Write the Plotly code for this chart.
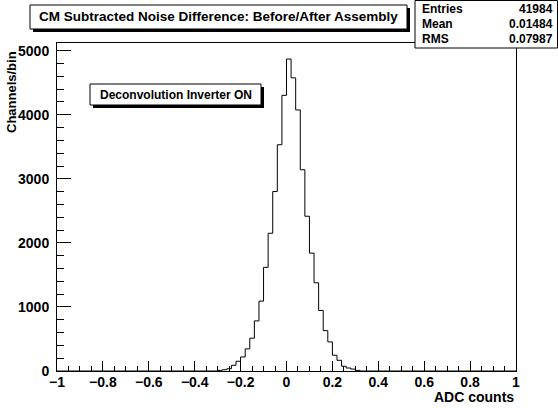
import plotly.graph_objects as go

# histogram: 100 bins of width 0.02 from -1 to 1, only the central ones are filled
bin_low = -1.0
bin_width = 0.02
n_bins = 100
first_filled = -0.30
counts = [10, 20, 35, 89, 152, 219, 345, 512, 782, 1091,
          1618, 2150, 2801, 3532, 4303, 4870, 4576, 4075, 3141, 2416,
          1840, 1377, 945, 630, 454, 246, 167, 74, 47, 30, 10]

stat_names = ["Entries", "Mean", "RMS"]
stat_values = ["41984", "0.01484", "0.07987"]

title_text = "CM Subtracted Noise Difference: Before/After Assembly"
label_text = "Deconvolution Inverter ON"

W, H = 558, 408
L, R, T, B = 57, 42, 43, 37
FONT = "Liberation Sans, Arial, Helvetica, sans-serif"


def px(x):
    return (x - L) / (W - L - R)


def py(y):
    return (H - B - y) / (H - T - B)


full = [0] * n_bins
start = round((first_filled - bin_low) / bin_width)
full[start:start + len(counts)] = counts
x_steps = [bin_low + i * bin_width for i in range(n_bins + 1)]
y_steps = full + [full[-1]]

fig = go.Figure()
fig.add_trace(go.Scatter(x=x_steps, y=y_steps, mode="lines", line_shape="hv",
                         line=dict(color="black", width=1), hoverinfo="skip"))

tickfont = dict(family=FONT, size=14, color="black", weight="bold")
fig.update_xaxes(range=[-1, 1], dtick=0.2, tick0=0, ticks="inside", ticklen=10,
                 tickcolor="black", showline=True, linecolor="black", linewidth=1,
                 mirror=True, showgrid=False, zeroline=False, tickfont=tickfont,
                 ticklabelstandoff=-2,
                 minor=dict(dtick=0.05, ticks="inside", ticklen=5, tickcolor="black",
                            showgrid=False))
fig.update_yaxes(range=[0, 5120], dtick=1000, tick0=0, ticks="inside", ticklen=14,
                 tickcolor="black", showline=True, linecolor="black", linewidth=1,
                 mirror=True, showgrid=False, zeroline=False, tickfont=tickfont,
                 tickformat="d", ticklabelstandoff=4,
                 minor=dict(dtick=200, ticks="inside", ticklen=7, tickcolor="black",
                            showgrid=False))

shapes = []
annots = []


def box(x0, y0, x1, y1, shadow=0):
    if shadow:
        shapes.append(dict(type="rect", xref="paper", yref="paper",
                           x0=px(x0 + shadow), x1=px(x1 + shadow),
                           y0=py(y0 + shadow), y1=py(y1 + shadow),
                           fillcolor="black", line=dict(width=0)))
    shapes.append(dict(type="rect", xref="paper", yref="paper",
                       x0=px(x0), x1=px(x1), y0=py(y0), y1=py(y1),
                       fillcolor="white", line=dict(color="black", width=1)))


# title box
box(30, 5, 407, 29, shadow=3)
annots.append(dict(text=title_text, xref="paper", yref="paper", x=px(218.5), y=py(17),
                   xanchor="center", yanchor="middle", showarrow=False,
                   font=dict(family=FONT, size=13.5, color="black", weight="bold")))

# stats box
box(415, 0.5, 557.5, 48)
for i, (n, v) in enumerate(zip(stat_names, stat_values)):
    yc = 9 + i * 15
    annots.append(dict(text=n, xref="paper", yref="paper", x=px(420), y=py(yc),
                       xanchor="left", yanchor="middle", showarrow=False,
                       font=dict(family=FONT, size=12, color="black", weight="bold")))
    annots.append(dict(text=v, xref="paper", yref="paper", x=px(555), y=py(yc),
                       xanchor="right", yanchor="middle", showarrow=False,
                       font=dict(family=FONT, size=12, color="black", weight="bold")))

# label box
box(90, 84, 261, 105, shadow=3)
annots.append(dict(text=label_text, xref="paper", yref="paper", x=px(175.5), y=py(94.5),
                   xanchor="center", yanchor="middle", showarrow=False,
                   font=dict(family=FONT, size=12, color="black", weight="bold")))

# axis titles
annots.append(dict(text="ADC counts", xref="paper", yref="paper", x=1, y=py(397),
                   xanchor="right", yanchor="middle", showarrow=False,
                   font=dict(family=FONT, size=14, color="black", weight="bold")))
annots.append(dict(text="Channels/bin", xref="paper", yref="paper", x=px(11), y=py(49),
                   xanchor="center", yanchor="top", textangle=-90, showarrow=False,
                   font=dict(family=FONT, size=13, color="black", weight="bold")))

fig.update_layout(width=W, height=H, margin=dict(l=L, r=R, t=T, b=B),
                  paper_bgcolor="white", plot_bgcolor="white", showlegend=False,
                  shapes=shapes, annotations=annots)

fig.write_html("out.html", config={"displayModeBar": False},
               post_script="document.body.style.margin='0px';")
